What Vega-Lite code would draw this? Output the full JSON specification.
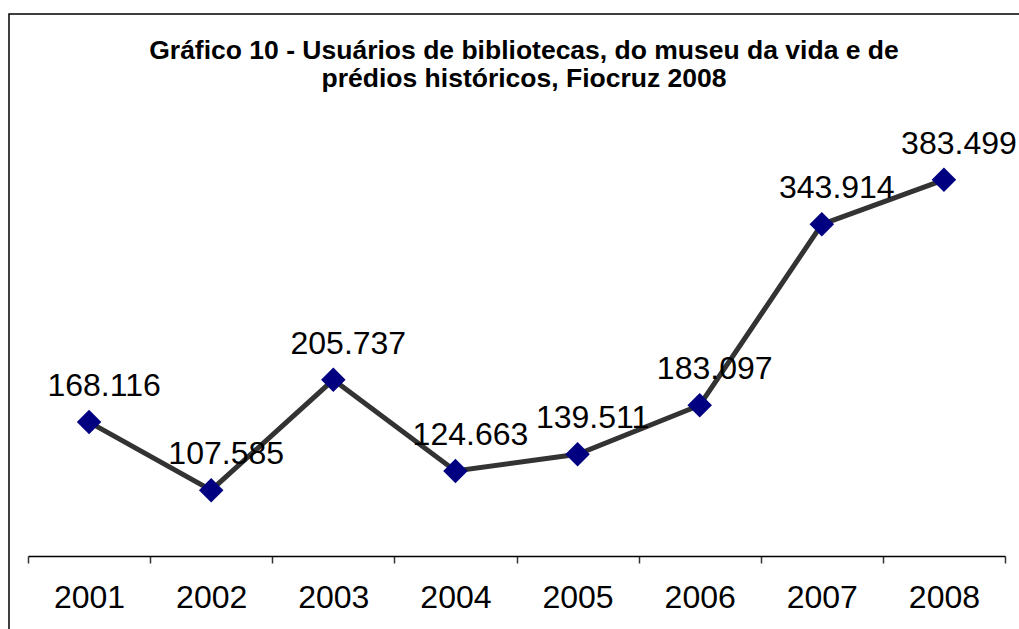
{
  "$schema": "https://vega.github.io/schema/vega-lite/v6.json",
  "width": 1030,
  "height": 640,
  "autosize": {"type": "none"},
  "padding": {"left": 9, "top": 14, "right": 0, "bottom": 0},
  "background": "white",
  "config": {
    "locale": {"number": {"decimal": ",", "thousands": ".", "grouping": [3], "currency": ["R$", ""]}},
    "view": {"stroke": "black", "strokeWidth": 1.5},
    "font": "Liberation Sans"
  },
  "title": {
    "text": ["Gráfico 10 - Usuários de bibliotecas, do museu da vida e de", "prédios históricos, Fiocruz 2008"],
    "fontSize": 26.5,
    "fontWeight": "bold",
    "font": "Liberation Sans",
    "color": "black",
    "lineHeight": 28,
    "anchor": "middle",
    "offset": -78
  },
  "data": {
    "values": [
      {"ano": "2001", "usuarios": 168116},
      {"ano": "2002", "usuarios": 107585},
      {"ano": "2003", "usuarios": 205737},
      {"ano": "2004", "usuarios": 124663},
      {"ano": "2005", "usuarios": 139511},
      {"ano": "2006", "usuarios": 183097},
      {"ano": "2007", "usuarios": 343914},
      {"ano": "2008", "usuarios": 383499}
    ]
  },
  "encoding": {
    "x": {
      "field": "ano",
      "type": "ordinal",
      "bandPosition": 0.5,
      "scale": {"type": "band", "range": [19, 996], "paddingInner": 0, "paddingOuter": 0},
      "axis": {
        "title": null,
        "orient": "bottom",
        "offset": -98,
        "tickBand": "extent",
        "domainColor": "black",
        "domainWidth": 1.5,
        "tickColor": "#333333",
        "tickWidth": 1.5,
        "tickSize": 7,
        "labelFontSize": 32,
        "labelColor": "black",
        "labelPadding": 19,
        "labelAngle": 0,
        "grid": false
      }
    },
    "y": {
      "field": "usuarios",
      "type": "quantitative",
      "scale": {"domain": [50000, 450000], "range": [541, 91]},
      "axis": null
    }
  },
  "layer": [
    {"mark": {"type": "line", "color": "#333333", "strokeWidth": 5}},
    {"mark": {"type": "point", "shape": "diamond", "filled": true, "color": "#000080", "size": 600, "opacity": 1}},
    {
      "mark": {"type": "text", "fontSize": 32, "dx": 15, "dy": -26, "baseline": "alphabetic", "color": "black"},
      "encoding": {"text": {"field": "usuarios", "type": "quantitative", "format": ",d"}}
    }
  ]
}
